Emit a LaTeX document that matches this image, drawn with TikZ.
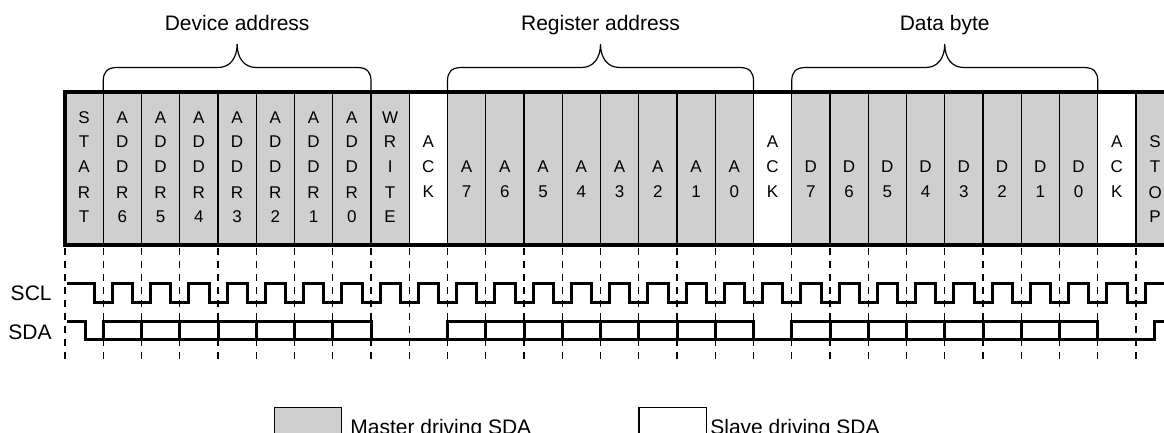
\documentclass[tikz,border=0pt]{standalone}
\usepackage{fontspec}
\setmainfont{Liberation Sans}
\usetikzlibrary{positioning,calc}
\definecolor{mst}{gray}{0.81}
\tikzset{
  cel/.style={draw=black,line width=.65pt,fill=mst,minimum width=19.125pt,
              minimum height=76.5pt,inner sep=0pt,outer sep=0pt,anchor=north west},
  bit/.style={font=\fontsize{8.5}{12.5}\selectfont,align=center,inner sep=0pt,anchor=base},
  frm/.style={line width=1.6pt},
  tck/.style={line width=.6pt,dash pattern=on 3.5pt off 3pt},
  wav/.style={line width=1.5pt},
  brc/.style={line width=.6pt},
  hdr/.style={font=\fontsize{10.5}{12}\selectfont,inner sep=0pt,anchor=base},
  lbl/.style={font=\fontsize{10.5}{12}\selectfont,inner sep=0pt},
  key/.style={draw=black,line width=.6pt,minimum width=33.7pt,minimum height=20pt,
              inner sep=0pt,outer sep=0pt,anchor=north west},
}

\begin{document}
\begin{tikzpicture}[x=.5pt,y=.5pt]
  \useasboundingbox (0,0) rectangle (1164,-433);
  \clip (0,0) rectangle (1164,-433);
  % bit cells
  \foreach \i in {0,1,2,3,4,5,6,7,8,10,11,12,13,14,15,16,17,19,20,21,22,23,24,25,26,28}
    \node[cel] (c\i) at ({65+38.25*\i},-92) {};
  \foreach \i in {9,18,27}
    \node[cel,fill=white] (c\i) at ({65+38.25*\i},-92) {};
  \draw[frm] (c28.north east) -- (c0.north west) -- (c0.south west) -- (c28.south east);
  \node[bit] (t0) at (84.125,-223) {S\\T\\A\\R\\T};
  \foreach \i/\n in {1/6,2/5,3/4,4/3,5/2,6/1,7/0}
    \node[bit] (t\i) at ({84.125+38.25*\i},-223) {A\\D\\D\\R\\\n};
  \node[bit] (t8) at ({84.125+38.25*8},-223) {W\\R\\I\\T\\E};
  \foreach \i in {9,18,27}
    \node[bit] (t\i) at ({84.125+38.25*\i},-198) {A\\C\\K};
  \foreach \i/\n in {10/7,11/6,12/5,13/4,14/3,15/2,16/1,17/0}
    \node[bit] (t\i) at ({84.125+38.25*\i},-198) {A\\\n};
  \foreach \i/\n in {19/7,20/6,21/5,22/4,23/3,24/2,25/1,26/0}
    \node[bit] (t\i) at ({84.125+38.25*\i},-198) {D\\\n};
  \node[bit] (t28) at ({84.125+38.25*28},-223) {S\\T\\O\\P};
  % braces
  \foreach \p/\q/\txt in {1/8/Device address,10/18/Register address,19/27/Data byte}{
    \pgfmathsetmacro\xl{65+38.25*\p}
    \pgfmathsetmacro\xr{65+38.25*\q}
    \pgfmathsetmacro\xm{(\xl+\xr)/2}
    \draw[brc] (c\p.north west) -- (\xl,-81) .. controls (\xl,-72) and ({\xl+4},-67.5) .. ({\xl+14},-67.5)
      -- ({\xm-19},-67.5) .. controls ({\xm-7},-67.5) and (\xm,-58) .. (\xm,-44)
      .. controls (\xm,-58) and ({\xm+7},-67.5) .. ({\xm+19},-67.5)
      -- ({\xr-14},-67.5) .. controls ({\xr-4},-67.5) and (\xr,-72) .. (\xr,-81) -- (c\q.north west);
    \node[hdr] (h\p) at (\xm,-31) {\txt};
  }
  % timing
  \foreach \i in {0,...,28}
    \draw[tck] (c\i.south west) ++(0,-3) -- ++(0,-111);
  \node[lbl,anchor=base east] (scl) at (52,-300) {SCL};
  \node[lbl,anchor=base east] (sda) at (52,-340) {SDA};
  \draw[wav] (67,-284) \foreach \i in {1,...,28}{ -- ({56+38.25*\i},-284) -- ++(0,-19) -- ++(18,0) -- ++(0,19) }
    -- (1170,-284);
  \draw[wav] (67,-322) -- (85,-322) -- (85,-340) -- (1154,-340) -- (1154,-322) -- (1170,-322);
  \foreach \p/\q in {1/8,10/18,19/27}
    \draw[wav] ({65+38.25*\p},-340) -- ++(0,18) -- ({65+38.25*\q},-322) -- ++(0,-18);
  \foreach \i in {2,3,4,5,6,7,11,12,13,14,15,16,17,20,21,22,23,24,25,26}
    \draw[wav] ({65+38.25*\i},-322) -- ++(0,-18);
  % legend
  \node[key,fill=mst] (km) at (274.3,-407.3) {};
  \node[lbl,anchor=base west] (lm) at (350,-434) {Master driving SDA};
  \node[key,fill=white] (ks) at (639,-407.3) {};
  \node[lbl,anchor=base west] (ls) at (710,-434) {Slave driving SDA};
\end{tikzpicture}
\end{document}
